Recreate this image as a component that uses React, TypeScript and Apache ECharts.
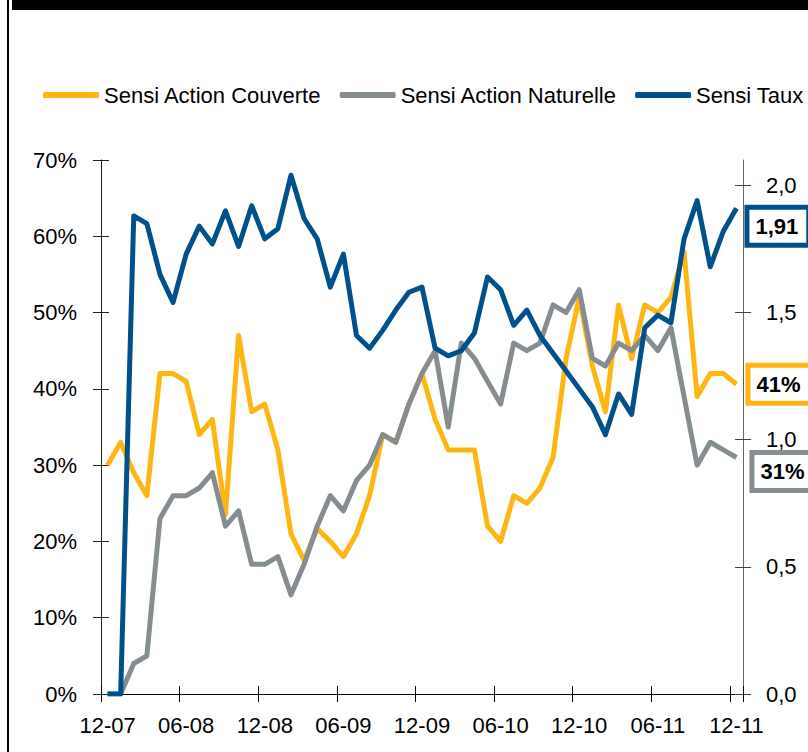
import React, { useEffect, useRef } from "react";
import * as echarts from "echarts";

const months = [
  "12-07", "01-08", "02-08", "03-08", "04-08", "05-08", "06-08", "07-08", "08-08", "09-08", "10-08", "11-08",
  "12-08", "01-09", "02-09", "03-09", "04-09", "05-09", "06-09", "07-09", "08-09", "09-09", "10-09", "11-09",
  "12-09", "01-10", "02-10", "03-10", "04-10", "05-10", "06-10", "07-10", "08-10", "09-10", "10-10", "11-10",
  "12-10", "01-11", "02-11", "03-11", "04-11", "05-11", "06-11", "07-11", "08-11", "09-11", "10-11", "11-11",
  "12-11",
];

const actionCouverte = [
  30, 33, 29, 26, 42, 42, 41, 34, 36, 23.5, 47, 37,
  38, 32, 21, 17.5, 21.7, 20, 18, 21, 26, 34, 33, 38,
  42, 36, 32, 32, 32, 22, 20, 26, 25, 27, 31, 44,
  52, 43, 37, 51, 44, 51, 50, 52, 58, 39, 42, 42,
  40.6,
];

const actionNaturelle = [
  0, 0, 4, 5, 23, 26, 26, 27, 29, 22, 24, 17,
  17, 18, 13, 17, 22, 26, 24, 28, 30, 34, 33, 38,
  42, 45, 35, 46, 44, 41, 38, 46, 45, 46, 51, 50,
  53, 44, 43, 46, 45, 47, 45, 48, 39, 30, 33, 32,
  31,
];

const sensiTaux = [
  0, 0, 1.88, 1.85, 1.65, 1.54, 1.73, 1.84, 1.77, 1.9, 1.76, 1.92,
  1.79, 1.83, 2.04, 1.87, 1.79, 1.6, 1.73, 1.41, 1.36, 1.43, 1.51, 1.58,
  1.6, 1.36, 1.33, 1.35, 1.42, 1.64, 1.59, 1.45, 1.51, 1.41, 1.34, 1.27,
  1.2, 1.13, 1.02, 1.18, 1.1, 1.44, 1.49, 1.46, 1.79, 1.94, 1.68, 1.82,
  1.91,
];

const rightTicks = [0, 0.5, 1, 1.5, 2];

const FONT = "Liberation Sans, Arial, sans-serif";
const YELLOW = "#FFB612";
const GREY = "#858D91";
const BLUE = "#00508A";

export default function App() {
  const ref = useRef<HTMLDivElement>(null);

  useEffect(() => {
    if (!ref.current) return;
    const chart = echarts.init(ref.current, undefined, { renderer: "svg" });

    const endLabel = (color: string, fmt: (v: number) => string, offset: number[]) => ({
      show: true,
      formatter: (p: any) => fmt(p.value as number),
      fontFamily: FONT,
      fontSize: 22,
      fontWeight: "bold",
      color: "#000",
      backgroundColor: "#fff",
      borderColor: color,
      borderWidth: 5,
      padding: [6, 8, 5, 6],
      distance: 13,
      offset,
    });

    const lineSeries = (name: string, data: number[], color: string, yAxisIndex: number, lbl: any) => ({
      name,
      type: "line",
      data,
      yAxisIndex,
      xAxisIndex: 0,
      symbol: "none",
      lineStyle: { color, width: 5, join: "round" },
      itemStyle: { color },
      endLabel: lbl,
      z: 3,
    });

    const catAxisBase = {
      type: "category",
      data: months,
      boundaryGap: true,
      position: "bottom",
    };

    chart.setOption({
      animation: false,
      backgroundColor: "#fff",
      textStyle: { fontFamily: FONT },
      graphic: [
        { type: "rect", shape: { x: 12, y: 0, width: 796, height: 10 }, style: { fill: "#000" }, silent: true },
        { type: "line", shape: { x1: 8, y1: 0, x2: 8, y2: 752 }, style: { stroke: "#000", lineWidth: 2 }, silent: true },
      ],
      legend: {
        left: 43,
        top: 84,
        width: 800,
        padding: 0,
        icon: "roundRect",
        itemWidth: 56,
        itemHeight: 6,
        itemGap: 18,
        textStyle: { fontFamily: FONT, fontSize: 22, color: "#000", lineHeight: 22 },
        data: ["Sensi Action Couverte", "Sensi Action Naturelle", "Sensi Taux"],
      },
      grid: { left: 101, right: 65, top: 160, bottom: 58, containLabel: false },
      xAxis: [
        {
          ...catAxisBase,
          axisLine: { show: true, onZero: false, lineStyle: { color: "#000", width: 1 } },
          axisTick: { show: true, inside: false, length: 8, interval: 5, lineStyle: { color: "#000" } },
          axisLabel: {
            interval: 5,
            margin: 20,
            fontFamily: FONT,
            fontSize: 22,
            color: "#000",
          },
          splitLine: { show: false },
        },
        {
          ...catAxisBase,
          axisLine: { show: false, onZero: false },
          axisTick: { show: true, inside: true, length: 8, interval: 5, lineStyle: { color: "#000" } },
          axisLabel: { show: false },
          splitLine: { show: false },
        },
      ],
      yAxis: [
        {
          type: "value",
          position: "left",
          min: 0,
          max: 70,
          interval: 10,
          axisLine: { show: true, lineStyle: { color: "#222", width: 1 } },
          axisTick: { show: true, inside: false, length: 8, lineStyle: { color: "#222" } },
          axisLabel: {
            formatter: "{value}%",
            margin: 24,
            fontFamily: FONT,
            fontSize: 22,
            color: "#000",
          },
          splitLine: { show: false },
        },
        {
          type: "value",
          position: "right",
          min: 0,
          max: 2.1,
          interval: 0.5,
          axisLine: { show: true, lineStyle: { color: "#666", width: 1 } },
          axisTick: { show: true, inside: false, length: 8, customValues: rightTicks, lineStyle: { color: "#444" } },
          axisLabel: {
            customValues: rightTicks,
            formatter: (v: number) => v.toFixed(1).replace(".", ","),
            margin: 23,
            fontFamily: FONT,
            fontSize: 22,
            color: "#000",
          },
          splitLine: { show: false },
        },
        {
          type: "value",
          position: "left",
          min: 0,
          max: 70,
          interval: 10,
          axisLine: { show: false },
          axisTick: { show: true, inside: true, length: 8, lineStyle: { color: "#222" } },
          axisLabel: { show: false },
          splitLine: { show: false },
        },
        {
          type: "value",
          position: "right",
          min: 0,
          max: 2.1,
          interval: 0.5,
          axisLine: { show: false },
          axisTick: { show: true, inside: true, length: 8, customValues: rightTicks, lineStyle: { color: "#444" } },
          axisLabel: { show: false },
          splitLine: { show: false },
        },
      ],
      series: [
        lineSeries("Sensi Action Couverte", actionCouverte, YELLOW, 0,
          endLabel(YELLOW, (v) => Math.round(v) + "%", [1, 0])),
        lineSeries("Sensi Action Naturelle", actionNaturelle, GREY, 0,
          endLabel(GREY, (v) => Math.round(v) + "%", [5, 14])),
        lineSeries("Sensi Taux", sensiTaux, BLUE, 1,
          endLabel(BLUE, (v) => v.toFixed(2).replace(".", ","), [0, 18])),
      ],
    });

    return () => chart.dispose();
  }, []);

  return (
    <div
      ref={ref}
      style={{ position: "fixed", left: 0, top: 0, width: 808, height: 752, background: "#fff" }}
    />
  );
}
